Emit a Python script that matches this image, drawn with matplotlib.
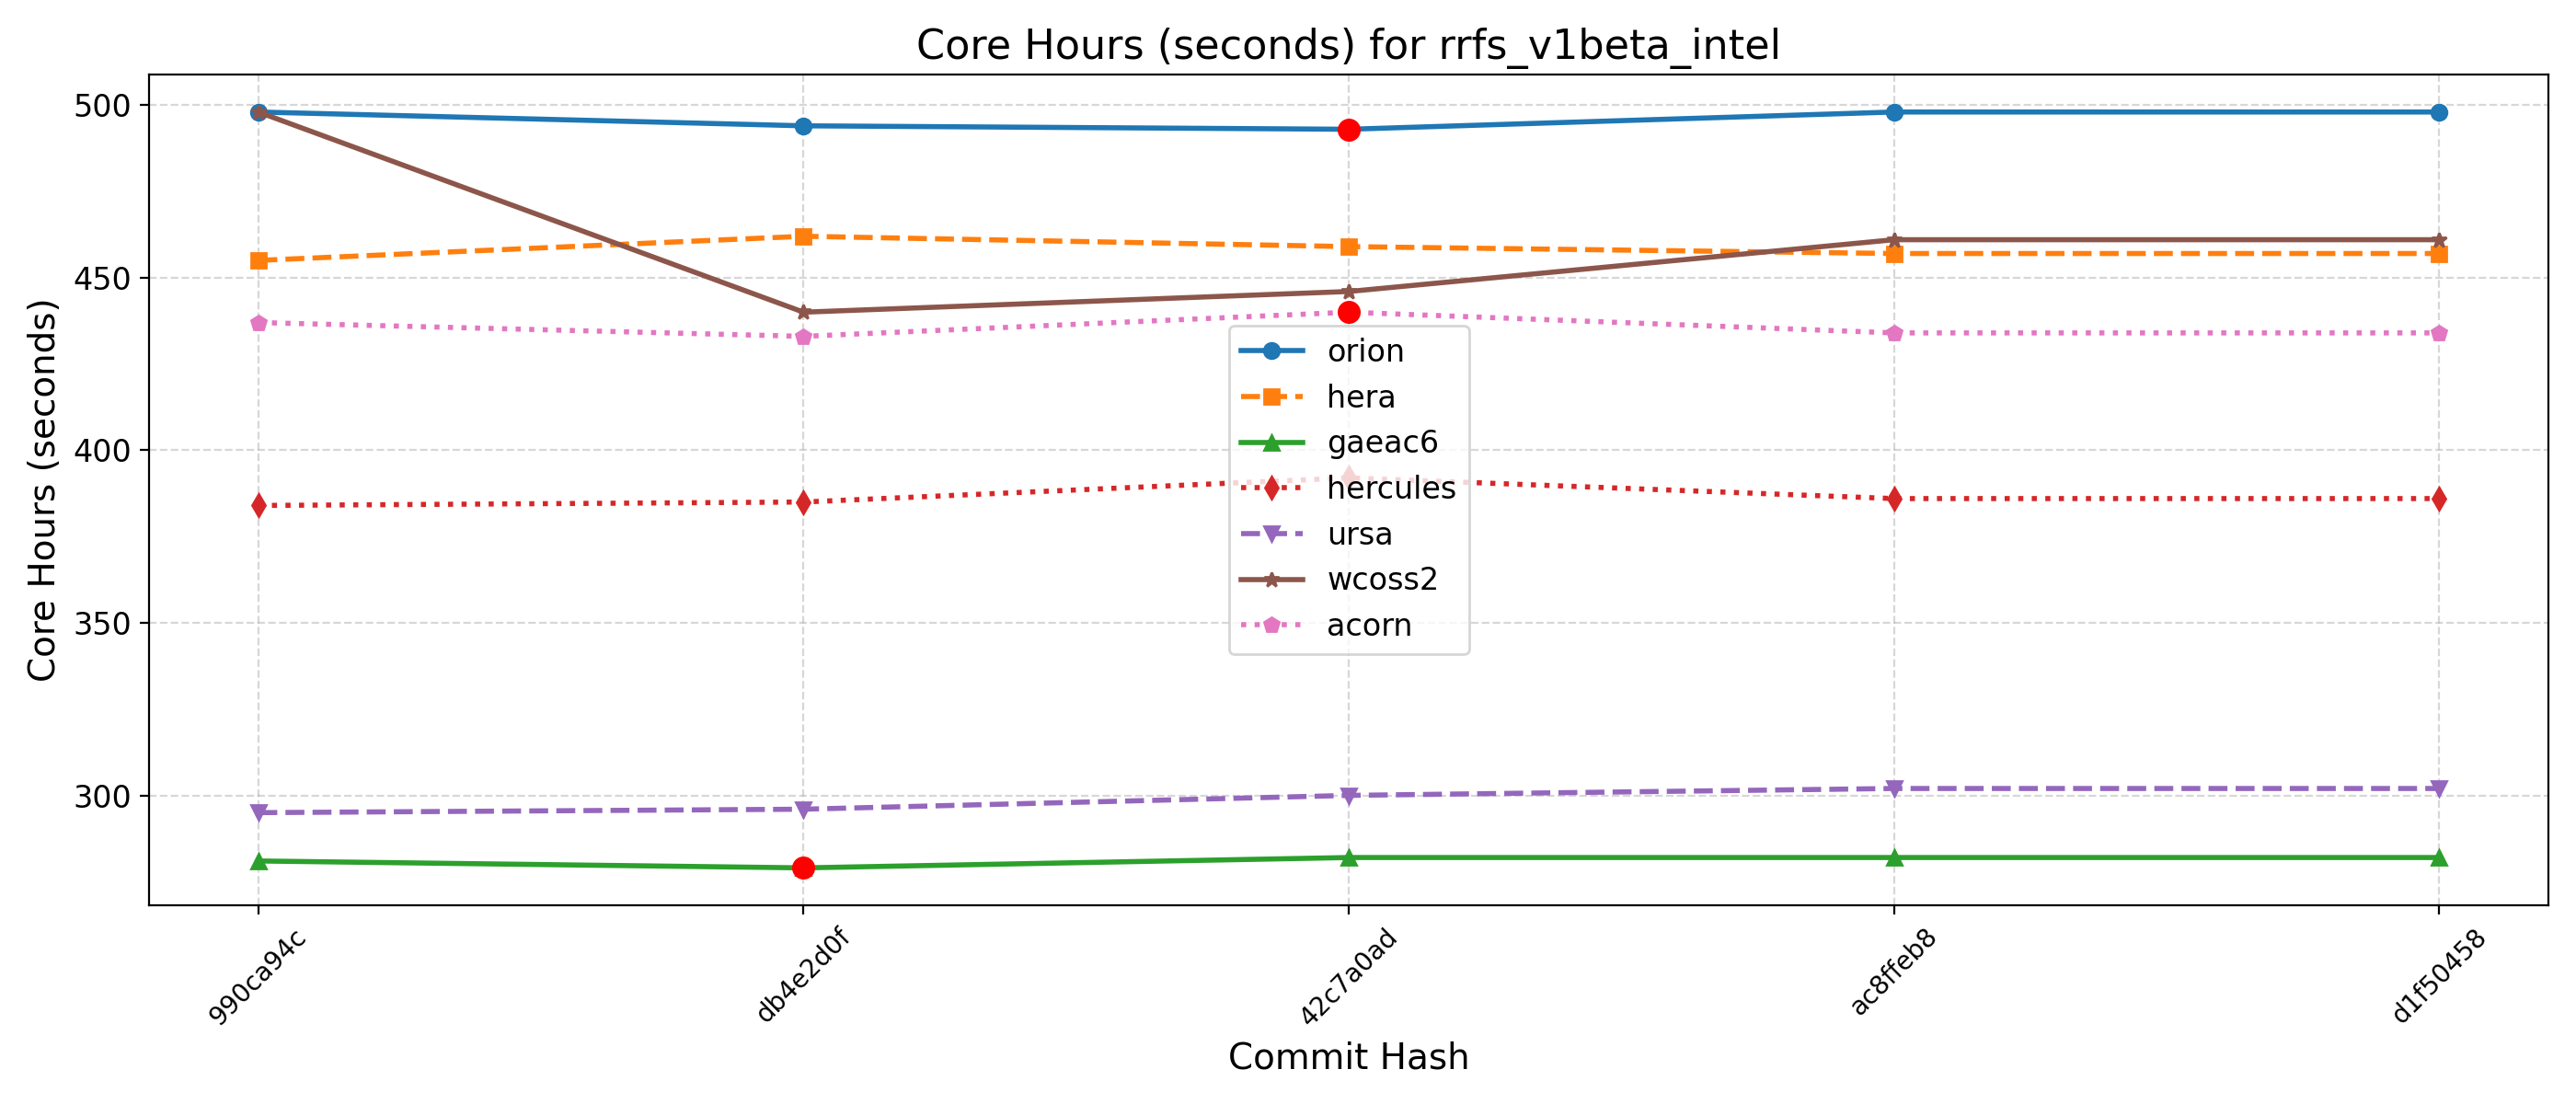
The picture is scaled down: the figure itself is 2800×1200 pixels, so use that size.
import matplotlib
matplotlib.use("Agg")
import matplotlib.pyplot as plt

# commit hashes on the x-axis
commits = ["990ca94c", "db4e2d0f", "42c7a0ad", "ac8ffeb8", "d1f50458"]

machines = ["orion", "hera", "gaeac6", "hercules", "ursa", "wcoss2", "acorn"]

orion = [498, 494, 493, 498, 498]
hera = [455, 462, 459, 457, 457]
gaeac6 = [281, 279, 282, 282, 282]
hercules = [384, 385, 392, 386, 386]
ursa = [295, 296, 300, 302, 302]
wcoss2 = [498, 440, 446, 461, 461]
acorn = [437, 433, 440, 434, 434]

# points flagged in red: (machine, commit index)
flagged = [("orion", 2), ("gaeac6", 1), ("acorn", 2)]

series = {
    "orion": orion,
    "hera": hera,
    "gaeac6": gaeac6,
    "hercules": hercules,
    "ursa": ursa,
    "wcoss2": wcoss2,
    "acorn": acorn,
}
markers = ["o", "s", "^", "d", "v", "*", "p"]
styles = ["-", "--", "-", ":", "--", "-", ":"]


def main():
    fig, ax = plt.subplots(figsize=(14, 6), dpi=200)
    x = list(range(len(commits)))

    for name, mk, ls in zip(machines, markers, styles):
        ax.plot(x, series[name], marker=mk, linestyle=ls, linewidth=2, label=name)

    for name, i in flagged:
        ax.plot(x[i], series[name][i], "o", color="red", markersize=8, zorder=5)

    ax.set_xticks(x)
    ax.set_xticklabels(commits, rotation=45)
    ax.tick_params(axis="y", labelsize=12)
    ax.set_xlabel("Commit Hash", fontsize=14)
    ax.set_ylabel("Core Hours (seconds)", fontsize=14)
    ax.set_title("Core Hours (seconds) for rrfs_v1beta_intel", fontsize=16)
    ax.grid(True, linestyle="--", alpha=0.5)
    ax.legend(fontsize=12)

    fig.tight_layout()
    fig.savefig("out.png")


if __name__ == "__main__":
    main()
